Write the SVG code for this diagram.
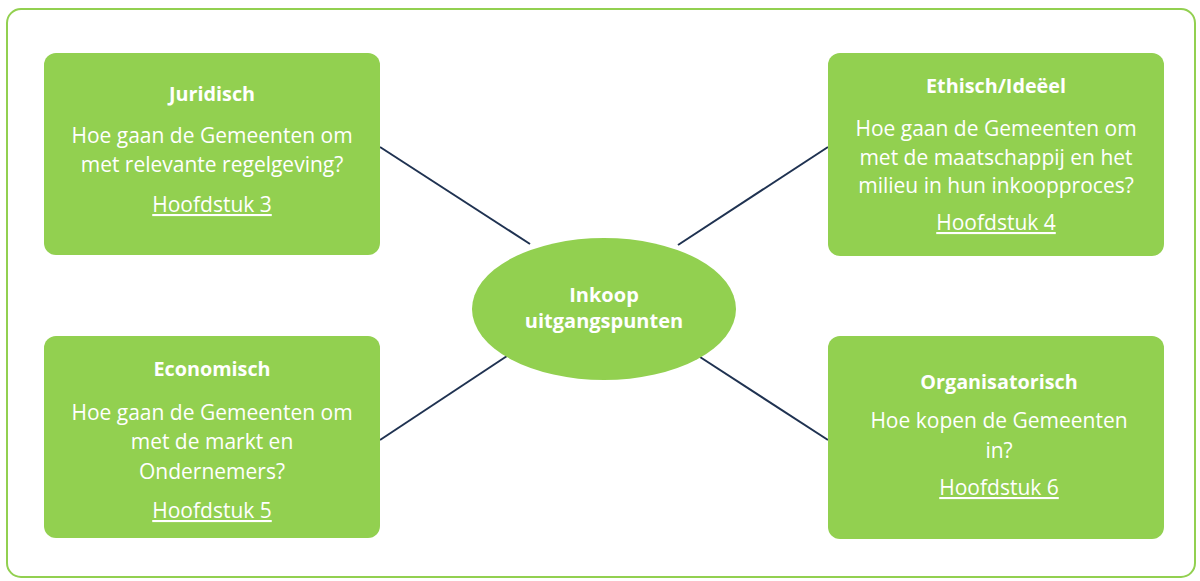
<svg xmlns="http://www.w3.org/2000/svg" width="1200" height="581" viewBox="0 0 1200 581">
<style>
.box{fill:#92D050}
.t{font-family:"Open Sans","Liberation Sans",sans-serif;fill:#fff;text-anchor:middle}
.h{font-weight:bold;font-size:19.8px}
.e{font-weight:bold;font-size:20px}
.b{font-size:21px}
.u{text-decoration:underline}
.c{stroke:#1F3251;stroke-width:2;fill:none}
</style>
<rect x="7" y="9" width="1188" height="568" rx="14" fill="#fff" stroke="#92D050" stroke-width="2"/>
<g id="connectors">
<line class="c" x1="380" y1="147" x2="530" y2="244"/>
<line class="c" x1="828" y1="147" x2="678" y2="245"/>
<line class="c" x1="380" y1="440" x2="507" y2="356"/>
<line class="c" x1="828" y1="440" x2="700" y2="357"/>
</g>
<g id="juridisch">
<rect class="box" x="44" y="53" width="336" height="202" rx="12"/>
<text class="t h" x="212" y="101">Juridisch</text>
<text class="t b" x="212" y="143">Hoe gaan de Gemeenten om</text>
<text class="t b" x="212" y="172">met relevante regelgeving?</text>
<text class="t b u" x="212" y="212">Hoofdstuk 3</text>
</g>
<g id="ethisch">
<rect class="box" x="828" y="53" width="336" height="203" rx="12"/>
<text class="t h" x="996" y="93">Ethisch/Ideëel</text>
<text class="t b" x="996" y="136">Hoe gaan de Gemeenten om</text>
<text class="t b" x="996" y="165">met de maatschappij en het</text>
<text class="t b" x="996" y="193">milieu in hun inkoopproces?</text>
<text class="t b u" x="996" y="230">Hoofdstuk 4</text>
</g>
<g id="economisch">
<rect class="box" x="44" y="336" width="336" height="202" rx="12"/>
<text class="t h" x="212" y="376">Economisch</text>
<text class="t b" x="212" y="420">Hoe gaan de Gemeenten om</text>
<text class="t b" x="212" y="449">met de markt en</text>
<text class="t b" x="212" y="479">Ondernemers?</text>
<text class="t b u" x="212" y="518">Hoofdstuk 5</text>
</g>
<g id="organisatorisch">
<rect class="box" x="828" y="336" width="336" height="203" rx="12"/>
<text class="t h" x="999" y="389">Organisatorisch</text>
<text class="t b" x="999" y="428">Hoe kopen de Gemeenten</text>
<text class="t b" x="999" y="458">in?</text>
<text class="t b u" x="999" y="495">Hoofdstuk 6</text>
</g>
<g id="center">
<ellipse class="box" cx="604" cy="309" rx="132" ry="71"/>
<text class="t e" x="604" y="302">Inkoop</text>
<text class="t e" x="604" y="328">uitgangspunten</text>
</g>
</svg>
